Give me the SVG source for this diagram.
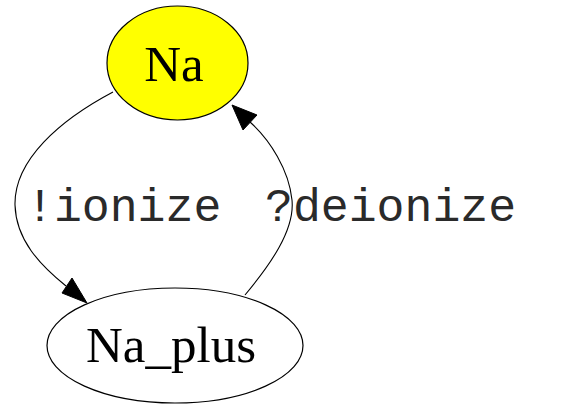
<svg xmlns="http://www.w3.org/2000/svg" width="588" height="409" viewBox="0 0 588 409">
  <style>
    .node { stroke: #000; stroke-width: 1.2; }
    .nlabel { font-family: "Liberation Serif", "Times New Roman", serif; font-size: 51px; fill: #000; text-anchor: middle; }
    .edge { fill: none; stroke: #000; stroke-width: 1.1; }
    .head { fill: #000; stroke: #000; stroke-width: 1; }
    .elabel { font-family: "Liberation Mono", "Courier New", monospace; font-size: 46.5px; fill: #2a2a2a; }
  </style>
  <rect width="588" height="409" fill="#fff"/>
  <g id="edges">
    <g id="edge-ionize">
      <path class="edge" d="M113,92 C60,120 14,160 15,205 C16,240 40,265 66,286"/>
      <polygon class="head" points="87,303 62,293 72,278"/>
      <text class="elabel" x="26" y="221">!ionize</text>
    </g>
    <g id="edge-deionize">
      <path class="edge" d="M245,295 C270,265 295,230 292,200 C289,170 270,140 250,122"/>
      <polygon class="head" points="232,105 257,115 243,130"/>
      <text class="elabel" x="265" y="221">?deionize</text>
    </g>
  </g>
  <g id="node-Na">
    <ellipse class="node" cx="177.5" cy="63" rx="70.5" ry="57" fill="#ffff00"/>
    <text class="nlabel" x="174" y="81">Na</text>
  </g>
  <g id="node-Na_plus">
    <ellipse class="node" cx="175" cy="345.5" rx="128" ry="57.5" fill="#fff"/>
    <text class="nlabel" x="171" y="362">Na_plus</text>
  </g>
</svg>
